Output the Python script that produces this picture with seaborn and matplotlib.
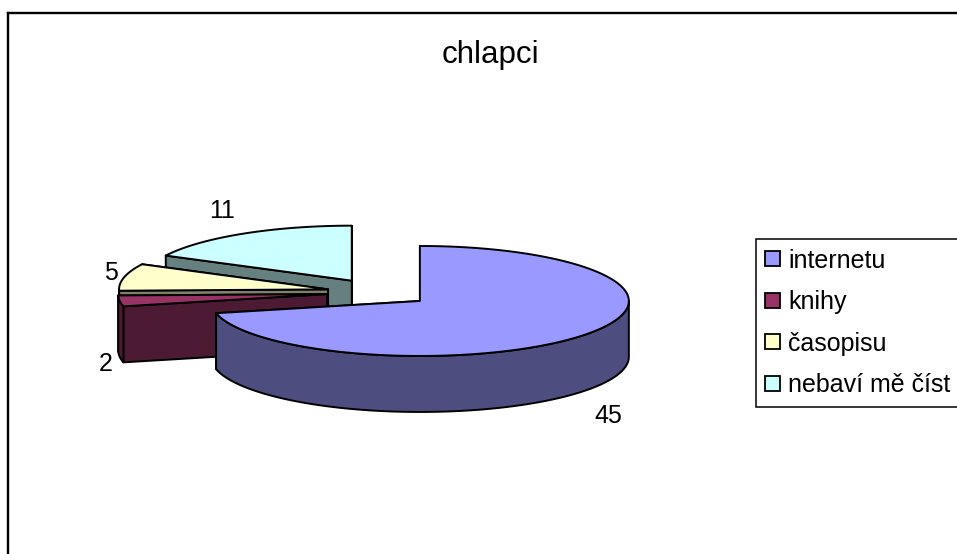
import numpy as np
import matplotlib.pyplot as plt
import seaborn as sns
from matplotlib.patches import Patch

categories = ['internetu', 'knihy', 'časopisu', 'nebaví mě číst']
values = [45, 2, 5, 11]
top_colors = ['#9999FF', '#993366', '#FFFFCC', '#CCFFFF']
side_colors = ['#4D4D80', '#4D1A33', '#808066', '#668080']

# pie layout in pixels
center_x, center_y = 379, 292.4
radius_x, radius_y = 209, 55
depth = 56
explode = 0.25
label_pos = [(608, 416), (106, 364), (111, 273), (222, 211)]


def rim(angle, cx, cy):
    # angle in degrees, clockwise from 12 o'clock
    a = np.radians(angle)
    return cx + radius_x * np.sin(a), cy - radius_y * np.cos(a)


def draw_slice(ax, start, end, top, side):
    mid = (start + end) / 2
    dx, dy = rim(mid, 0, 0)
    cx = center_x + explode * dx
    cy = center_y + explode * dy
    style = dict(edgecolor='black', linewidth=1.4, joinstyle='round')

    # the two cut faces, hidden one first
    for angle in (end, start):
        x, y = rim(angle, cx, cy)
        ax.fill([cx, x, x, cx], [cy, y, y + depth, cy + depth], facecolor=side, **style)

    # outer wall, only the front half of the rim shows
    lo, hi = max(start, 90), min(end, 270)
    if hi > lo:
        t = np.linspace(lo, hi, 80)
        x, y = rim(t, cx, cy)
        ax.fill(np.r_[x, x[::-1]], np.r_[y, y[::-1] + depth], facecolor=side, **style)

    t = np.linspace(start, end, 160)
    x, y = rim(t, cx, cy)
    ax.fill(np.r_[cx, x], np.r_[cy, y], facecolor=top, **style)


sns.set_theme(style='white')
plt.rcParams['font.family'] = ['Liberation Sans', 'DejaVu Sans']

fig = plt.figure(figsize=(9.57, 5.54), dpi=100)
ax = fig.add_axes([8 / 957, 0, 949 / 957, 541 / 554])
ax.set_xlim(8, 957)
ax.set_ylim(554, 13)
ax.set_xticks([])
ax.set_yticks([])

sns.despine(ax=ax, top=False, right=True, left=False, bottom=True)
for name in ('top', 'left'):
    ax.spines[name].set_color('black')
    ax.spines[name].set_linewidth(1.7)

edges = np.r_[0, np.cumsum(values)] / sum(values) * 360
for i in reversed(range(len(values))):
    draw_slice(ax, edges[i], edges[i + 1], top_colors[i], side_colors[i])

for value, (x, y) in zip(values, label_pos):
    ax.text(x, y, str(value), fontsize=18, color='black', ha='center', va='center')

ax.text(490, 55, 'chlapci', fontsize=22.5, color='black', ha='center', va='center')

handles = [Patch(facecolor=c, edgecolor='black', linewidth=1.3) for c in top_colors]
legend = ax.legend(handles, categories, loc='upper left', bbox_to_anchor=(756, 239),
                   bbox_transform=ax.transData, borderaxespad=0, fontsize=18,
                   frameon=True, fancybox=False, framealpha=1, edgecolor='black',
                   labelcolor='black', handlelength=0.6, handleheight=0.56,
                   handletextpad=0.32, borderpad=0.38, labelspacing=0.7)
legend.get_frame().set_linewidth(1.1)

fig.savefig('out.png', dpi=100)
plt.close(fig)
